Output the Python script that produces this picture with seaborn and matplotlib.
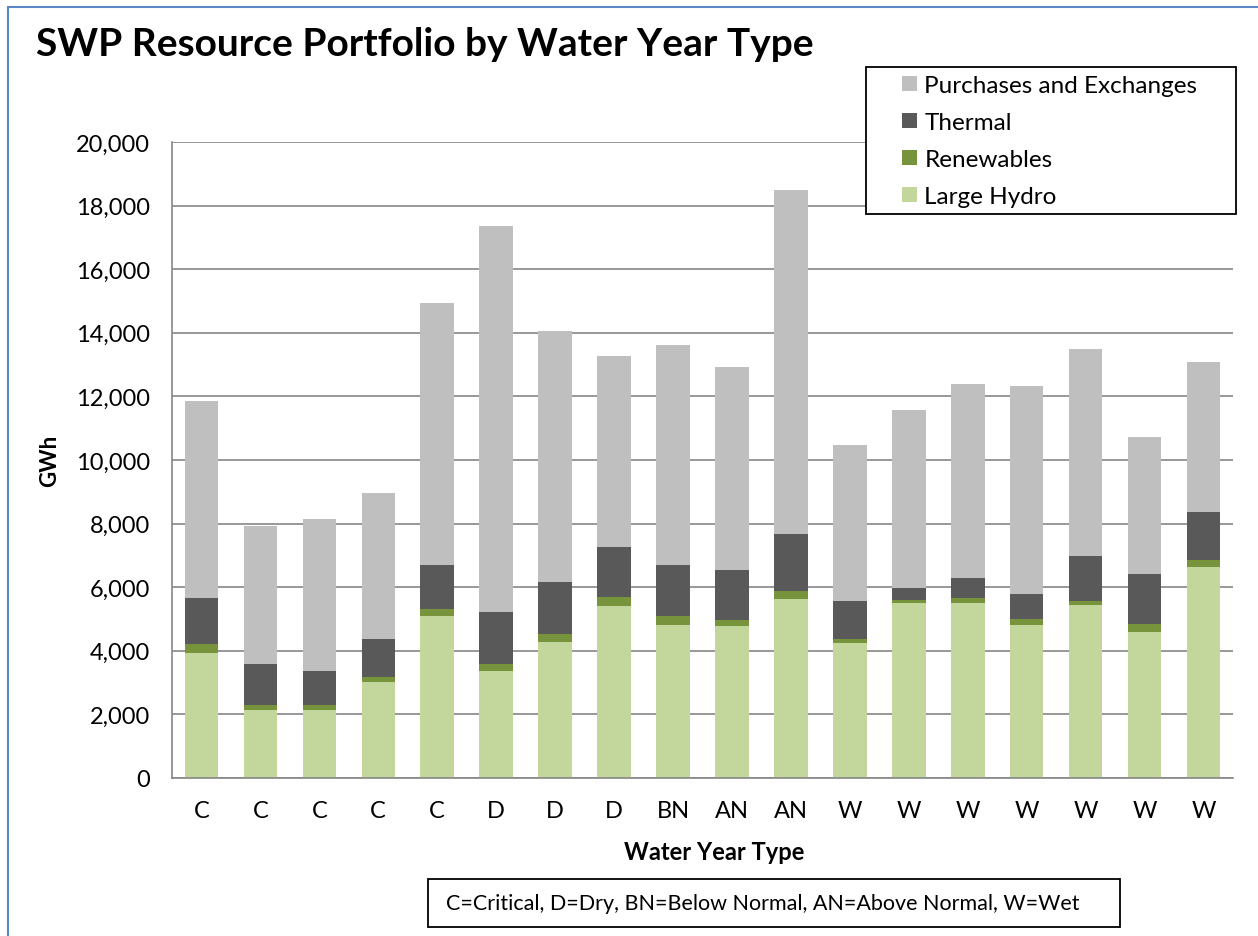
import matplotlib
matplotlib.use('Agg')
import matplotlib.pyplot as plt
from matplotlib.patches import Patch, Rectangle
from matplotlib.ticker import FuncFormatter
import pandas as pd
import seaborn as sns

# water year type of each bar (left to right)
water_types = ['C', 'C', 'C', 'C', 'C', 'D', 'D', 'D', 'BN', 'AN', 'AN',
               'W', 'W', 'W', 'W', 'W', 'W', 'W']

# GWh by resource
large_hydro = [3940, 2130, 2130, 3010, 5100, 3380, 4290, 5410, 4820, 4790, 5640,
               4230, 5490, 5490, 4810, 5440, 4600, 6620]
renewables = [280, 150, 180, 160, 220, 200, 250, 270, 270, 190, 240,
              150, 110, 180, 180, 140, 250, 220]
thermal = [1440, 1310, 1050, 1190, 1380, 1630, 1610, 1590, 1610, 1570, 1780,
           1200, 390, 610, 800, 1390, 1550, 1540]
purchases = [6210, 4350, 4780, 4600, 8230, 12150, 7920, 6000, 6920, 6360, 10840,
             4880, 5580, 6100, 6540, 6520, 4320, 4700]

series_names = ['Large Hydro', 'Renewables', 'Thermal', 'Purchases and Exchanges']
series_colors = ['#C3D69B', '#77933C', '#595959', '#BFBFBF']

df = pd.DataFrame({
    'bar': list(range(len(water_types))),
    'Large Hydro': large_hydro,
    'Renewables': renewables,
    'Thermal': thermal,
    'Purchases and Exchanges': purchases,
})
# stack tops for each layer
stack = df[series_names].cumsum(axis=1)

sns.set_style('white')
plt.rcParams['font.family'] = ['Lato', 'DejaVu Sans']
plt.rcParams['text.color'] = 'black'
plt.rcParams['axes.labelcolor'] = 'black'
plt.rcParams['xtick.color'] = 'black'
plt.rcParams['ytick.color'] = 'black'

W, H = 1258, 937
fig = plt.figure(figsize=(W / 100, H / 100), dpi=100)
ax = fig.add_axes([172 / W, 1 - 779 / H, (1233 - 172) / W, (779 - 143) / H])

# draw from the tallest layer down so each one covers the previous
for name, col in reversed(list(zip(series_names, series_colors))):
    sns.barplot(x=df['bar'], y=stack[name], color=col, saturation=1,
                width=0.57, errorbar=None, linewidth=0, ax=ax)

ax.set_ylim(0, 20000)
ax.set_yticks(range(0, 20001, 2000))
ax.yaxis.set_major_formatter(FuncFormatter(lambda v, p: f'{v:,.0f}'))
ax.set_xticks(range(len(water_types)))
ax.set_xticklabels(water_types)
ax.tick_params(axis='x', length=0, pad=16, labelsize=17)
ax.tick_params(axis='y', length=7, width=1.1, color='#868686', labelcolor='black',
               pad=9, labelsize=17)

ax.yaxis.grid(True, color='#868686', linewidth=1.2)
ax.set_axisbelow(True)
for side in ['top', 'right']:
    ax.spines[side].set_visible(False)
for side in ['left', 'bottom']:
    ax.spines[side].set_color('#868686')
    ax.spines[side].set_linewidth(1.2)

ax.set_xlabel('')
ax.set_ylabel('GWh', fontsize=16, fontweight='bold', labelpad=11)

fig.text(36 / W, 1 - 45 / H, 'SWP Resource Portfolio by Water Year Type',
         fontsize=28, fontweight='bold', ha='left', va='center')
fig.text(714 / W, 1 - 853 / H, 'Water Year Type', fontsize=17,
         fontweight='bold', ha='center', va='center')

# footnote box
fig.patches.append(Rectangle((428 / W, 1 - 928 / H), (1120 - 428) / W, 48 / H,
                             transform=fig.transFigure, fill=False,
                             edgecolor='black', linewidth=1.3))
fig.text(446 / W, 1 - 904 / H,
         'C=Critical, D=Dry, BN=Below Normal, AN=Above Normal, W=Wet',
         fontsize=15.5, ha='left', va='center')

# legend box drawn by hand, entries placed inside it (top layer first)
fig.patches.append(Rectangle((866 / W, 1 - 215 / H), (1236 - 866) / W, 147 / H,
                             transform=fig.transFigure, facecolor='white',
                             edgecolor='black', linewidth=1.3, zorder=3))
handles = [Patch(facecolor=c, edgecolor='none') for c in reversed(series_colors)]
leg = fig.legend(handles, list(reversed(series_names)), loc='upper left',
                 bbox_to_anchor=(902 / W, 1 - 76 / H), fontsize=17.5,
                 frameon=False, borderaxespad=0, borderpad=0,
                 handlelength=0.62, handleheight=0.62, handletextpad=0.3,
                 labelspacing=0.66)
leg.set_zorder(4)

# blue chart border (clipped at right and bottom like the original)
fig.patches.append(Rectangle((8 / W, -0.05), 1.1, 1 - 8 / H + 0.05,
                             transform=fig.transFigure, fill=False,
                             edgecolor='#5B86C5', linewidth=1.5))

fig.savefig('out.png', dpi=100)
